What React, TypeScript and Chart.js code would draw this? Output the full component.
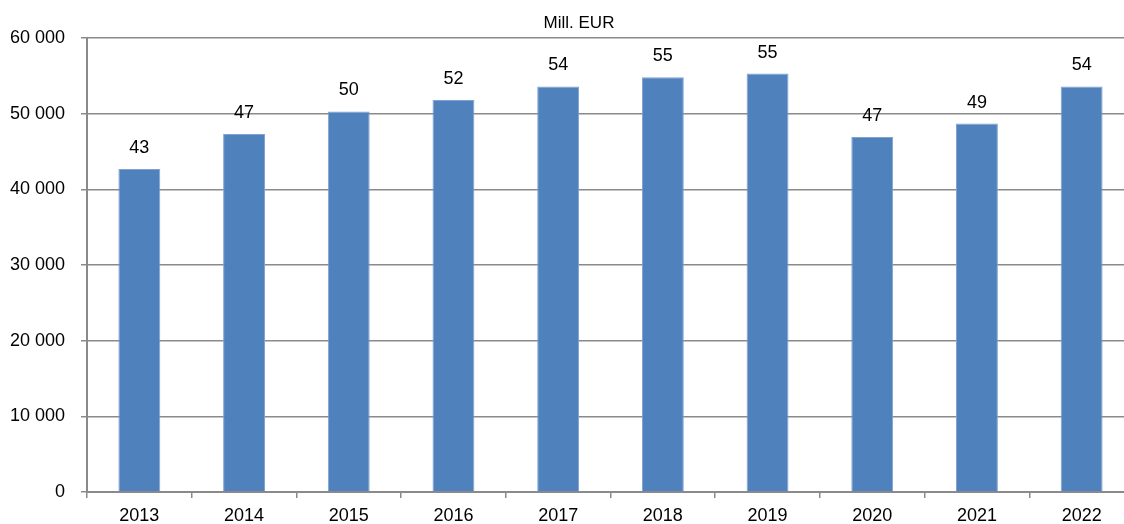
import React, { useEffect, useRef } from "react";
import { Chart, registerables } from "chart.js";

Chart.register(...registerables);

const categories = ["2013", "2014", "2015", "2016", "2017", "2018", "2019", "2020", "2021", "2022"];
const values = [42700, 47300, 50300, 51800, 53600, 54800, 55300, 46900, 48700, 53600];
const unitLabel = "Mill. EUR";
const yMax = 60000;
const yStep = 10000;

const FONT = "'Liberation Sans', Arial, sans-serif";
const GRID = "#8a8a8a";

function fmt(v: number): string {
  return String(v).replace(/\B(?=(\d{3})+(?!\d))/g, " ");
}

const labelPlugin = {
  id: "barLabels",
  afterDatasetsDraw(chart: any) {
    const ctx = chart.ctx;
    const meta = chart.getDatasetMeta(0);
    ctx.save();
    ctx.font = `18px ${FONT}`;
    ctx.fillStyle = "#000";
    ctx.textAlign = "center";
    ctx.textBaseline = "alphabetic";
    meta.data.forEach((bar: any, i: number) => {
      ctx.fillText(String(Math.round(values[i] / 1000)), bar.x, bar.y - 16);
    });
    ctx.restore();
  },
};

const titlePlugin = {
  id: "unitTitle",
  afterDraw(chart: any) {
    const ctx = chart.ctx;
    ctx.save();
    ctx.font = `17px ${FONT}`;
    ctx.fillStyle = "#000";
    ctx.textAlign = "center";
    ctx.textBaseline = "alphabetic";
    ctx.fillText(unitLabel, 579, 28);
    ctx.restore();
  },
};

export default function App() {
  const ref = useRef<HTMLCanvasElement>(null);
  useEffect(() => {
    if (!ref.current) return;
    const chart = new Chart(ref.current, {
      type: "bar",
      data: {
        labels: categories,
        datasets: [
          {
            data: values,
            backgroundColor: "#4F81BD",
            borderColor: "#7FA2CF",
            borderWidth: 1,
            barPercentage: 0.4,
            categoryPercentage: 1,
          },
        ],
      },
      options: {
        animation: false,
        responsive: false,
        maintainAspectRatio: false,
        layout: { padding: { left: 0, right: 6, top: 38, bottom: 0 } },
        plugins: { legend: { display: false }, tooltip: { enabled: false }, title: { display: false } },
        scales: {
          x: {
            grid: { display: true, drawOnChartArea: false, offset: true, tickLength: 6, color: GRID, lineWidth: 1.5 },
            border: { display: true, color: GRID, width: 2 },
            ticks: { color: "#000", font: { family: FONT, size: 18 }, padding: 7, maxRotation: 0 },
            afterFit(scale: any) {
              scale.height = 32;
            },
          },
          y: {
            min: 0,
            max: yMax,
            grid: { color: GRID, lineWidth: 1.5, tickLength: 6 },
            border: { display: true, color: GRID, width: 2 },
            ticks: {
              stepSize: yStep,
              color: "#000",
              font: { family: FONT, size: 18 },
              padding: 16,
              callback: (v: any) => fmt(Number(v)),
            },
            afterFit(scale: any) {
              scale.width = 87;
            },
          },
        },
      },
      plugins: [labelPlugin, titlePlugin],
    });
    return () => chart.destroy();
  }, []);
  return (
    <div style={{ position: "fixed", left: 0, top: 0, width: 1124, height: 524, overflow: "hidden", background: "#fff" }}>
      <canvas ref={ref} width={1140} height={524} style={{ display: "block", width: 1140, height: 524 }} />
    </div>
  );
}
